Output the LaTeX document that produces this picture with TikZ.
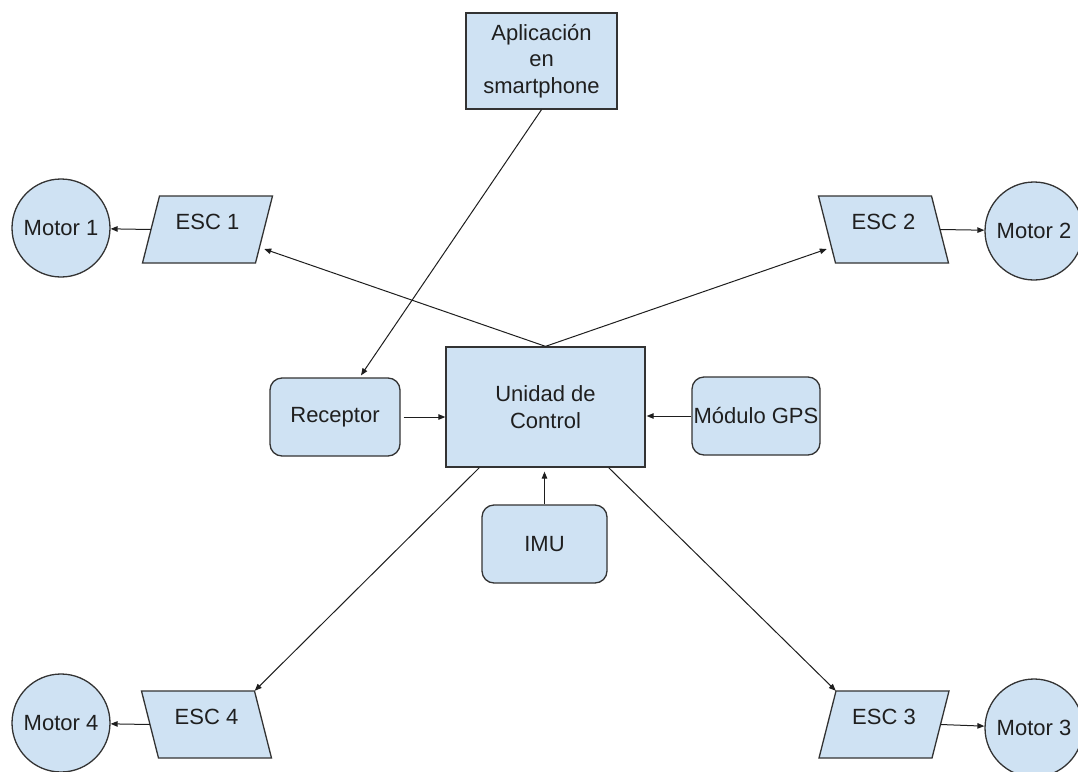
\documentclass[tikz,border=0pt]{standalone}
\usepackage{fontspec}
\setmainfont{Liberation Sans}
\usetikzlibrary{arrows.meta,calc}
\definecolor{boxfill}{HTML}{CFE2F3}
\definecolor{boxline}{HTML}{333333}
\definecolor{wire}{HTML}{1E1E1E}
\definecolor{ink}{HTML}{1F1F1F}
\begin{document}
\begin{tikzpicture}[x=1pt,y=-1pt,
  every node/.style={font=\fontsize{22}{26.5}\selectfont, text=ink, align=center},
  block/.style={draw=boxline, fill=boxfill, line width=1.3pt, inner sep=0pt},
  sqbox/.style={block, rectangle},
  rbox/.style={block, rectangle, rounded corners=12pt},
  motor/.style={block, circle, minimum size=98pt},
  escpoly/.style={draw=boxline, fill=boxfill, line width=1.3pt, line join=miter},
  escbox/.style={rectangle, inner sep=0pt, minimum width=113pt,
    minimum height=67pt, text depth=16pt},
  link/.style={draw=wire, line width=1pt, -{Triangle[length=7pt,width=5.5pt]}},
]
\useasboundingbox (0,0) rectangle (1078,771);

% central controller and its inputs
\node[sqbox, minimum width=151pt, minimum height=96pt] (app) at (541.5,61) {Aplicación\\en\\smartphone};
\node[sqbox, minimum width=199pt, minimum height=120pt] (uc) at (545.5,407) {Unidad de\\Control};
\node[rbox, minimum width=130pt, minimum height=78pt] (rec) at (335,417) {Receptor};
\node[rbox, minimum width=128pt, minimum height=78pt] (gps) at (756,416) {Módulo GPS};
\node[rbox, minimum width=125pt, minimum height=78pt] (imu) at (544.5,544) {IMU};

% speed controllers: parallelogram outlines, then their labels
\coordinate (c1) at (207.5,229.5);
\coordinate (c2) at (883.5,229.5);
\coordinate (c3) at (884,724.5);
\coordinate (c4) at (206.5,724.5);
\draw[escpoly] ($(c1)+(-65,33.5)$) -- ($(c1)+(48,33.5)$) -- ($(c1)+(65,-33.5)$) -- ($(c1)+(-48,-33.5)$) -- cycle;
\draw[escpoly] ($(c2)+(-65,-33.5)$) -- ($(c2)+(48,-33.5)$) -- ($(c2)+(65,33.5)$) -- ($(c2)+(-48,33.5)$) -- cycle;
\draw[escpoly] ($(c3)+(-65,33.5)$) -- ($(c3)+(48,33.5)$) -- ($(c3)+(65,-33.5)$) -- ($(c3)+(-48,-33.5)$) -- cycle;
\draw[escpoly] ($(c4)+(-65,-33.5)$) -- ($(c4)+(48,-33.5)$) -- ($(c4)+(65,33.5)$) -- ($(c4)+(-48,33.5)$) -- cycle;
\node[escbox] (esc1) at (c1) {ESC 1};
\node[escbox] (esc2) at (c2) {ESC 2};
\node[escbox] (esc3) at (c3) {ESC 3};
\node[escbox] (esc4) at (c4) {ESC 4};

% motors
\node[motor] (m1) at (61,228) {Motor 1};
\node[motor] (m2) at (1034,231) {Motor 2};
\node[motor] (m3) at (1034,728) {Motor 3};
\node[motor] (m4) at (61,723) {Motor 4};

% signal paths
\draw[link] (app.south) -- ([xshift=26pt,yshift=2pt]rec.north);
\draw[link] ([xshift=3pt]rec.east) -- (rec.east -| uc.west);
\draw[link] (gps.west) -- ([xshift=1pt]gps.west -| uc.east);
\draw[link, shorten >=4pt] (imu.north) -- (imu.north |- uc.south);
\draw[link] (uc.north) -- (esc1);
\draw[link] (uc.north) -- (esc2);
\draw[link] ([xshift=34pt]uc.south west) -- ([xshift=-8.5pt]esc4.north east);
\draw[link] ([xshift=-37pt]uc.south east) -- ([xshift=8.5pt]esc3.north west);
\draw[link] (esc1.west) -- (m1);
\draw[link] (esc2.east) -- (m2);
\draw[link] (esc3.east) -- (m3);
\draw[link] (esc4.west) -- (m4);
\end{tikzpicture}
\end{document}
